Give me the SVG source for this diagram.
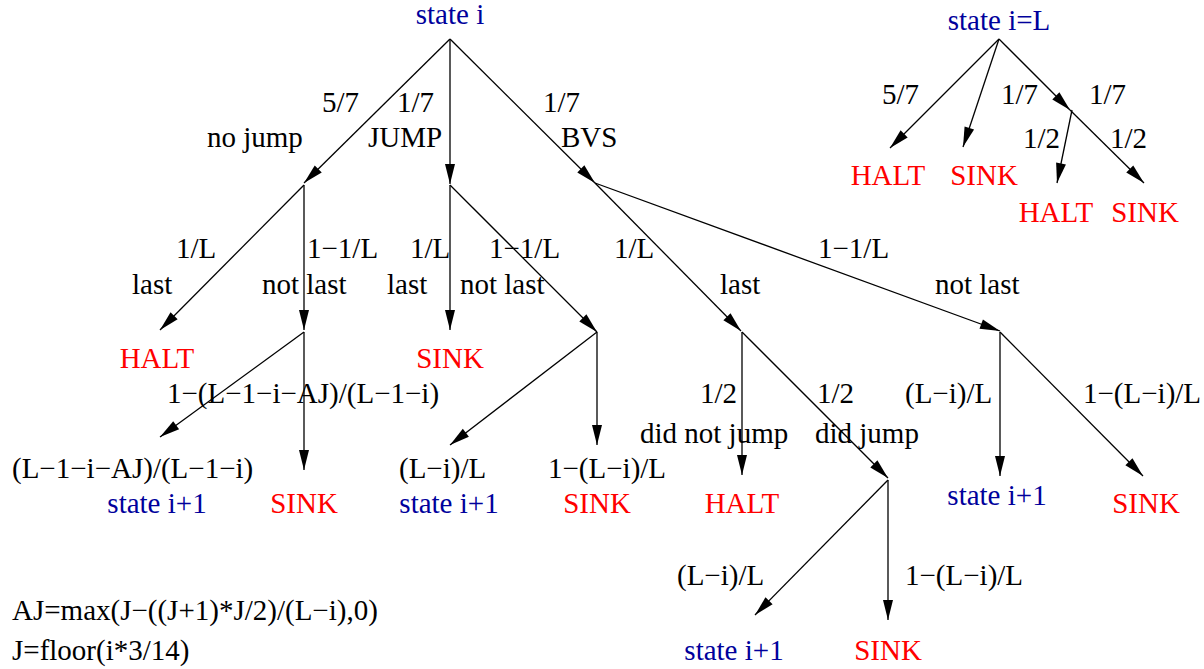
<svg xmlns="http://www.w3.org/2000/svg" width="1204" height="669" viewBox="0 0 1204 669" font-family="'Liberation Serif', 'DejaVu Serif', serif" font-size="29">
<style>
text{font-family:"Liberation Serif",serif;font-size:29px;fill:#000}
.b{fill:#00009c}
.r{fill:#ff0000}
.e{stroke:#000;stroke-width:1.3;fill:none}
.a{marker-end:url(#ah)}
</style>
<defs>
<marker id="ah" markerUnits="userSpaceOnUse" markerWidth="22" markerHeight="12" refX="20" refY="5" orient="auto" viewBox="0 0 22 12" overflow="visible">
<path d="M0,0 L20,5 L0,10 Z" fill="#000"/>
</marker>
</defs>
<rect width="1204" height="669" fill="#fff"/>

<g id="connectors">
<line class="e a" x1="450" y1="39" x2="304" y2="183"/>
<line class="e a" x1="450" y1="39" x2="450" y2="184"/>
<line class="e a" x1="450" y1="39" x2="595" y2="183"/>
<line class="e a" x1="304" y1="185" x2="160" y2="330"/>
<line class="e a" x1="304" y1="185" x2="304" y2="330"/>
<line class="e a" x1="450" y1="185" x2="450" y2="330"/>
<line class="e a" x1="450" y1="185" x2="597" y2="332"/>
<line class="e a" x1="595" y1="183" x2="741" y2="331"/>
<line class="e a" x1="595" y1="183" x2="1000" y2="331"/>
<line class="e a" x1="304" y1="332" x2="160" y2="437"/>
<line class="e a" x1="304" y1="332" x2="304" y2="470"/>
<line class="e a" x1="597" y1="332" x2="450" y2="445"/>
<line class="e a" x1="597" y1="332" x2="597" y2="445"/>
<line class="e a" x1="742" y1="332" x2="742" y2="475"/>
<line class="e a" x1="742" y1="332" x2="888" y2="478"/>
<line class="e a" x1="1000" y1="332" x2="1000" y2="476"/>
<line class="e a" x1="1000" y1="332" x2="1143" y2="476"/>
<line class="e a" x1="888" y1="480" x2="755" y2="615"/>
<line class="e a" x1="888" y1="480" x2="888" y2="620"/>
<line class="e a" x1="999" y1="39" x2="890" y2="148"/>
<line class="e a" x1="999" y1="39" x2="963" y2="147"/>
<line class="e a" x1="999" y1="39" x2="1070" y2="110"/>
<line class="e a" x1="1072" y1="110" x2="1057" y2="183"/>
<line class="e a" x1="1070" y1="110" x2="1144" y2="183"/>
<text x="322" y="112">5/7</text>
<text x="397" y="112">1/7</text>
<text x="207" y="147">no jump</text>
<text x="368" y="147">JUMP</text>
<text x="543" y="112">1/7</text>
<text x="561" y="147">BVS</text>
<text x="176" y="258">1/L</text>
<text x="132" y="294">last</text>
<text x="307" y="258">1−1/L</text>
<text x="262" y="294">not last</text>
<text x="410" y="258">1/L</text>
<text x="387" y="294">last</text>
<text x="489" y="258">1−1/L</text>
<text x="460" y="294">not last</text>
<text x="614" y="258">1/L</text>
<text x="720" y="294">last</text>
<text x="818" y="258">1−1/L</text>
<text x="935" y="294">not last</text>
<text x="167" y="403">1−(L−1−i−AJ)/(L−1−i)</text>
<text x="12" y="478">(L−1−i−AJ)/(L−1−i)</text>
<text x="399" y="478">(L−i)/L</text>
<text x="548" y="478">1−(L−i)/L</text>
<text x="700" y="403">1/2</text>
<text x="640" y="443">did not jump</text>
<text x="817" y="403">1/2</text>
<text x="815" y="443">did jump</text>
<text x="905" y="403">(L−i)/L</text>
<text x="1083" y="403">1−(L−i)/L</text>
<text x="677" y="585">(L−i)/L</text>
<text x="905" y="585">1−(L−i)/L</text>
<text x="882" y="104">5/7</text>
<text x="1001" y="104">1/7</text>
<text x="1089" y="104">1/7</text>
<text x="1023" y="148">1/2</text>
<text x="1110" y="148">1/2</text>
</g>

<g id="n-state-i"><text class="b" x="450" y="24" text-anchor="middle">state i</text></g>
<g id="n-halt-1"><text class="r" x="157" y="368" text-anchor="middle">HALT</text></g>
<g id="n-sink-1"><text class="r" x="450" y="368" text-anchor="middle">SINK</text></g>
<g id="n-state-a"><text class="b" x="157" y="513" text-anchor="middle">state i+1</text></g>
<g id="n-sink-2"><text class="r" x="304" y="513" text-anchor="middle">SINK</text></g>
<g id="n-state-b"><text class="b" x="449" y="513" text-anchor="middle">state i+1</text></g>
<g id="n-sink-3"><text class="r" x="597" y="513" text-anchor="middle">SINK</text></g>
<g id="n-halt-2"><text class="r" x="742" y="513" text-anchor="middle">HALT</text></g>
<g id="n-state-c"><text class="b" x="997" y="505" text-anchor="middle">state i+1</text></g>
<g id="n-sink-4"><text class="r" x="1146" y="513" text-anchor="middle">SINK</text></g>
<g id="n-state-d"><text class="b" x="734" y="660" text-anchor="middle">state i+1</text></g>
<g id="n-sink-5"><text class="r" x="888" y="660" text-anchor="middle">SINK</text></g>
<g id="n-state-L"><text class="b" x="999" y="30" text-anchor="middle">state i=L</text></g>
<g id="n-halt-L1"><text class="r" x="888" y="185" text-anchor="middle">HALT</text></g>
<g id="n-sink-L1"><text class="r" x="984" y="185" text-anchor="middle">SINK</text></g>
<g id="n-halt-L2"><text class="r" x="1056" y="222" text-anchor="middle">HALT</text></g>
<g id="n-sink-L2"><text class="r" x="1145" y="222" text-anchor="middle">SINK</text></g>
<g id="notes">
<text x="12" y="620">AJ=max(J−((J+1)*J/2)/(L−i),0)</text>
<text x="12" y="660">J=floor(i*3/14)</text>
</g>
</svg>
